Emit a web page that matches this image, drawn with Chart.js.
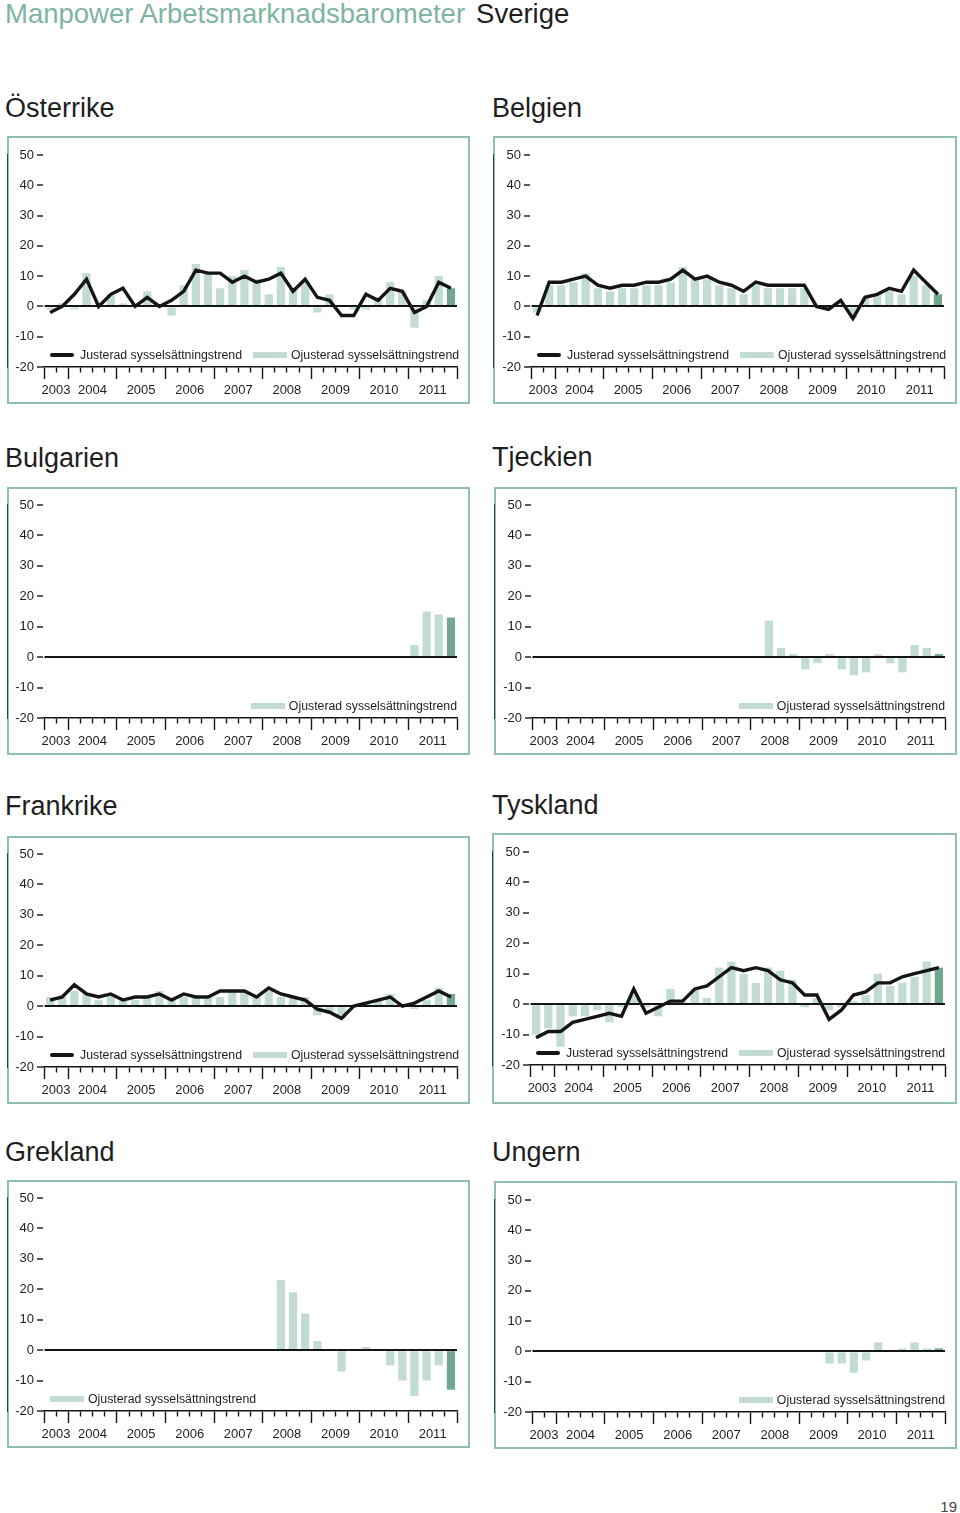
<!DOCTYPE html>
<html>
<head>
<meta charset="utf-8">
<title>Manpower Arbetsmarknadsbarometer Sverige</title>
<script src="https://cdn.jsdelivr.net/npm/chart.js@4/dist/chart.umd.min.js"></script>
<style>
  body { margin: 0; width: 960px; height: 1513px; background: #fff; position: relative; overflow: hidden;
         font-family: 'Liberation Sans', Arial, Helvetica, sans-serif; color: #1e1e1e; }
  .head { position: absolute; left: 5px; top: 0px; font-size: 27.5px; line-height: 28px; white-space: nowrap; }
  .head .m { color: #7fb4a1; }
  .head .s { color: #1e1e1e; margin-left: 11px; }
  .ttl { position: absolute; font-size: 27px; line-height: 27px; white-space: nowrap; color: #1e1e1e; }
  .box { position: absolute; box-sizing: border-box; border: 2.5px solid #8fc0ad; }
  canvas { position: absolute; }
  .leg { position: absolute; display: flex; align-items: center; font-size: 12.3px; line-height: 14px; white-space: nowrap; color: #1e1e1e; }
  .leg .ln { display: inline-block; width: 24px; height: 4px; background: #151515; border-radius: 2px; margin-right: 6px; }
  .leg .sw { display: inline-block; width: 34px; height: 6px; background: #c3dcd1; margin-right: 4px; }
  .leg .gap { display: inline-block; width: 11px; }
  .pnum { position: absolute; right: 3px; top: 1498px; font-size: 15px; color: #444; }
</style>
</head>
<body>
<div class="head"><span class="m">Manpower Arbetsmarknadsbarometer</span><span class="s">Sverige</span></div>
<div id="page"></div>
<div class="pnum">19</div>

<script>
// quarters shown on every chart, 2003 K3 .. 2011 K4 (last one is the forecast)
const quarters = [
  '2003 K3', '2003 K4',
  '2004 K1', '2004 K2', '2004 K3', '2004 K4',
  '2005 K1', '2005 K2', '2005 K3', '2005 K4',
  '2006 K1', '2006 K2', '2006 K3', '2006 K4',
  '2007 K1', '2007 K2', '2007 K3', '2007 K4',
  '2008 K1', '2008 K2', '2008 K3', '2008 K4',
  '2009 K1', '2009 K2', '2009 K3', '2009 K4',
  '2010 K1', '2010 K2', '2010 K3', '2010 K4',
  '2011 K1', '2011 K2', '2011 K3', '2011 K4'
];
const yTicks = [-20, -10, 0, 10, 20, 30, 40, 50];

const legendAdj = 'Justerad sysselsättningstrend';
const legendRaw = 'Ojusterad sysselsättningstrend';

// Österrike
const austriaAdj = [-2, 0, 4, 9, 0, 4, 6, 0, 3, 0, 2, 5, 12, 11, 11, 8, 10, 8, 9, 11, 5, 9, 3, 2, -3, -3, 4, 2, 6, 5, -2, 0, 8, 6];
const austriaRaw = [-1, 1, -1, 11, 0, 4, 1, 1, 5, 0, -3, 7, 14, 11, 6, 10, 12, 9, 4, 13, 6, 8, -2, 4, 0, -1, -1, 3, 8, 5, -7, 2, 10, 6];
// Belgien
const belgiumAdj = [-3, 8, 8, 9, 10, 7, 6, 7, 7, 8, 8, 9, 12, 9, 10, 8, 7, 5, 8, 7, 7, 7, 7, 0, -1, 2, -4, 3, 4, 6, 5, 12, 8, 4];
const belgiumRaw = [-2, 7, 7, 8, 11, 6, 5, 6, 6, 7, 7, 8, 13, 9, 9, 7, 6, 4, 7, 6, 6, 6, 6, 0, -1, 1, -4, 3, 4, 5, 4, 10, 7, 4];
// Bulgarien
const bulgariaRaw = [null, null, null, null, null, null, null, null, null, null, null, null, null, null, null, null, null, null,
  null, null, null, null, null, null, null, null, null, null, null, null, 4, 15, 14, 13];
// Tjeckien
const czechRaw = [null, null, null, null, null, null, null, null, null, null, null, null, null, null, null, null, null, null,
  null, 12, 3, 1, -4, -2, 1, -4, -6, -5, 1, -2, -5, 4, 3, 1];
// Frankrike
const franceAdj = [2, 3, 7, 4, 3, 4, 2, 3, 3, 4, 2, 4, 3, 3, 5, 5, 5, 3, 6, 4, 3, 2, -1, -2, -4, 0, 1, 2, 3, 0, 1, 3, 5, 3];
const franceRaw = [3, 3, 5, 4, 2, 4, 2, 2, 3, 5, 2, 3, 3, 3, 3, 5, 5, 3, 5, 3, 3, 3, -3, -2, -3, 0, 1, 2, 4, 0, -1, 2, 6, 4];
// Tyskland
const germanyAdj = [-11, -9, -9, -6, -5, -4, -3, -4, 5, -3, -1, 1, 1, 5, 6, 9, 12, 11, 12, 11, 8, 7, 3, 3, -5, -2, 3, 4, 7, 7, 9, 10, 11, 12];
const germanyRaw = [-10, -8, -14, -4, -4, -2, -6, -1, 3, -1, -4, 5, 1, 5, 2, 12, 14, 10, 7, 12, 11, 8, -1, 2, -2, -1, 1, 3, 10, 6, 7, 9, 14, 12];
// Grekland
const greeceRaw = [null, null, null, null, null, null, null, null, null, null, null, null, null, null, null, null, null, null,
  null, 23, 19, 12, 3, 0, -7, 0, 1, 0, -5, -10, -15, -10, -5, -13];
// Ungern
const hungaryRaw = [null, null, null, null, null, null, null, null, null, null, null, null, null, null, null, null, null, null,
  null, null, null, null, null, null, -4, -4, -7, -3, 3, 0, 1, 3, 1, 1];

// page layout: box = [left, top, width, height], area = plot corners [left, top, right, bottom]
const panels = [
  { title: 'Österrike', adj: austriaAdj, raw: austriaRaw, titleX: 5, titleY: 95, box: [7, 136, 463, 268], area: [44, 155, 457, 367], legend: 'both' },
  { title: 'Belgien', adj: belgiumAdj, raw: belgiumRaw, titleX: 492, titleY: 95, box: [493, 136, 464, 268], area: [531, 155, 944, 367], legend: 'both' },
  { title: 'Bulgarien', adj: null, raw: bulgariaRaw, titleX: 5, titleY: 445, box: [7, 487, 463, 268], area: [44, 505, 457, 718], legend: 'right' },
  { title: 'Tjeckien', adj: null, raw: czechRaw, titleX: 492, titleY: 444, box: [494, 487, 463, 268], area: [532, 505, 945, 718], legend: 'right' },
  { title: 'Frankrike', adj: franceAdj, raw: franceRaw, titleX: 5, titleY: 793, box: [7, 836, 463, 268], area: [44, 854, 457, 1067], legend: 'both' },
  { title: 'Tyskland', adj: germanyAdj, raw: germanyRaw, titleX: 492, titleY: 792, box: [492, 833, 465, 271], area: [530, 852, 945, 1065], legend: 'both' },
  { title: 'Grekland', adj: null, raw: greeceRaw, titleX: 5, titleY: 1139, box: [7, 1180, 463, 268], area: [44, 1198, 457, 1411], legend: 'left' },
  { title: 'Ungern', adj: null, raw: hungaryRaw, titleX: 492, titleY: 1139, box: [494, 1181, 463, 268], area: [532, 1200, 945, 1412], legend: 'right' }
];

const LIGHT = '#c3dcd1';
const DARK = '#72a88f';
const INK = '#151515';

Chart.defaults.font.family = "'Liberation Sans', Arial, Helvetica, sans-serif";
Chart.defaults.color = '#1e1e1e';

const page = document.getElementById('page');

function yearLabel(i) {
  const q = quarters[i];
  if (i === 0 || q.endsWith('K2')) return q.slice(0, 4);
  return '';
}

function isYearStart(i) {
  // gridline i sits left of quarter i; the extra closing line has no index
  if (i === undefined || i === 0 || i >= quarters.length) return true;
  return quarters[i].endsWith('K1');
}

function legendHtml(kind) {
  const raw = '<span class="sw"></span><span>' + legendRaw + '</span>';
  if (kind === 'both') return '<span class="ln"></span><span>' + legendAdj + '</span><span class="gap"></span>' + raw;
  return raw;
}

panels.forEach(p => {
  const [bx, by, bw, bh] = p.box;
  const [al, at, ar, ab] = p.area;

  const t = document.createElement('div');
  t.className = 'ttl';
  t.textContent = p.title;
  t.style.left = p.titleX + 'px';
  t.style.top = p.titleY + 'px';
  page.appendChild(t);

  const b = document.createElement('div');
  b.className = 'box';
  Object.assign(b.style, { left: bx + 'px', top: by + 'px', width: bw + 'px', height: bh + 'px' });
  page.appendChild(b);

  const c = document.createElement('canvas');
  c.width = bw; c.height = bh;
  Object.assign(c.style, { left: bx + 'px', top: by + 'px', width: bw + 'px', height: bh + 'px' });
  page.appendChild(c);

  const lg = document.createElement('div');
  lg.className = 'leg';
  lg.innerHTML = legendHtml(p.legend);
  lg.style.top = (ab - 12 - 7) + 'px';
  if (p.legend === 'right') lg.style.right = (960 - ar) + 'px';
  else lg.style.left = (al + 6) + 'px';
  page.appendChild(lg);

  const datasets = [];
  if (p.adj) {
    datasets.push({
      type: 'line', label: legendAdj, data: p.adj, order: 0,
      borderColor: INK, borderWidth: 3.4, pointRadius: 0, tension: 0, borderJoinStyle: 'miter'
    });
  }
  datasets.push({
    type: 'bar', label: legendRaw, data: p.raw, order: 1,
    backgroundColor: ctx => ctx.dataIndex === quarters.length - 1 ? DARK : LIGHT,
    barPercentage: 0.68, categoryPercentage: 1
  });

  new Chart(c, {
    data: { labels: quarters, datasets: datasets },
    options: {
      responsive: false,
      animation: false,
      devicePixelRatio: 1,
      layout: { padding: { left: 0, top: at - by, right: bx + bw - ar, bottom: 0 } },
      plugins: { legend: { display: false }, tooltip: { enabled: false } },
      scales: {
        x: {
          type: 'category',
          offset: true,
          border: { color: INK, width: 1.5 },
          grid: {
            offset: true, drawOnChartArea: false, tickLength: 12,
            tickColor: INK, tickWidth: 1.4,
            tickBorderDash: ctx => isYearStart(ctx.index) ? [] : [5, 30]
          },
          ticks: {
            autoSkip: false, maxRotation: 0, minRotation: 0, padding: 4, labelOffset: 6,
            font: { size: 13 }, color: '#1e1e1e',
            callback: (v, i) => yearLabel(i)
          },
          afterFit: s => { s.height = by + bh - ab; }
        },
        y: {
          min: yTicks[0], max: yTicks[yTicks.length - 1],
          border: { color: INK, width: 1.5 },
          afterBuildTicks: s => { s.ticks = yTicks.map(v => ({ value: v })); },
          grid: {
            z: 1, drawOnChartArea: true, tickLength: 7,
            color: ctx => (ctx.tick && ctx.tick.value === 0) ? INK : 'rgba(0,0,0,0)',
            lineWidth: 2, tickColor: INK, tickWidth: 1.4
          },
          ticks: { padding: 3, font: { size: 13 }, color: '#1e1e1e' },
          afterFit: s => { s.width = al - bx; }
        }
      }
    }
  });
});
</script>
</body>
</html>
